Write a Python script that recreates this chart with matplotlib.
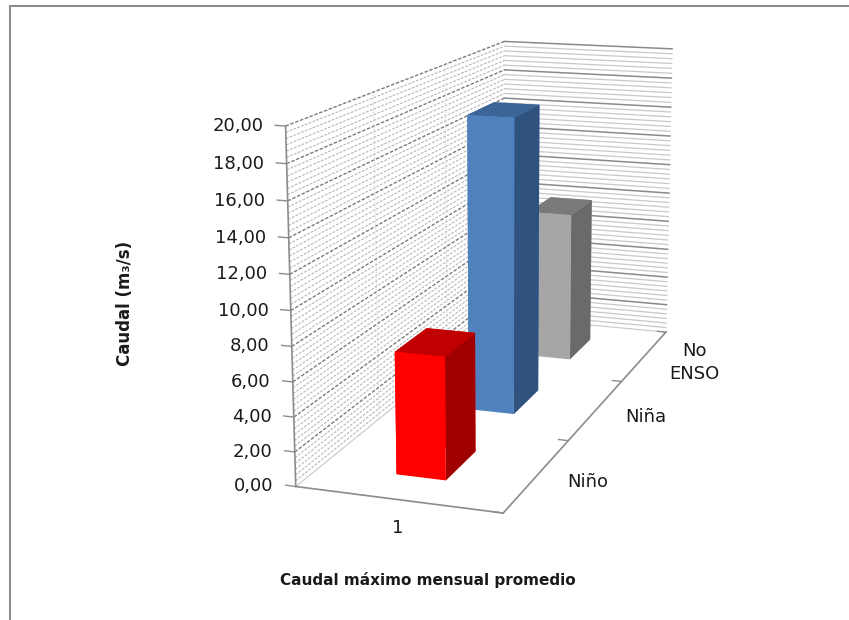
import matplotlib
matplotlib.use("Agg")
import matplotlib.pyplot as plt
import numpy as np
from mpl_toolkits.mplot3d.art3d import Poly3DCollection
from mpl_toolkits.mplot3d import proj3d

# Data
categories = ["1"]
series = ["Niño", "Niña", "No\nENSO"]
values = [7.13, 18.34, 9.91]
z_ticks = [0, 2, 4, 6, 8, 10, 12, 14, 16, 18, 20]
z_tick_labels = ["0,00", "2,00", "4,00", "6,00", "8,00", "10,00",
                 "12,00", "14,00", "16,00", "18,00", "20,00"]

face_colors = {
    # top, front, right side
    "Niño": ("#C00000", "#FF0000", "#A00000"),
    "Niña": ("#3B6596", "#4F81BD", "#30527E"),
    "No\nENSO": ("#7A7A7A", "#A6A6A6", "#6A6A6A"),
}

plt.rcParams["font.family"] = ["DejaVu Sans"]

fig = plt.figure(figsize=(8.49, 6.2), dpi=100)
ax = fig.add_axes([0.0837, 0.0924, 1.0, 1.0], projection="3d", computed_zorder=False)
ax.set_proj_type("persp", focal_length=0.5545)
ax.view_init(elev=13.71, azim=-71.27)

XMAX, YMAX, ZMAX = 1.0, 3.0, 20.0
ax.set_xlim(0, XMAX)
ax.set_ylim(0, YMAX)
ax.set_zlim(0, ZMAX)
ax.set_box_aspect((0.5996, 1.7807, 1.0), zoom=1.0878)
ax.set_axis_off()

# Walls and floor
left_wall = [[(0, 0, 0), (0, YMAX, 0), (0, YMAX, ZMAX), (0, 0, ZMAX)]]
back_wall = [[(0, YMAX, 0), (XMAX, YMAX, 0), (XMAX, YMAX, ZMAX), (0, YMAX, ZMAX)]]
floor = [[(0, 0, 0), (XMAX, 0, 0), (XMAX, YMAX, 0), (0, YMAX, 0)]]
for poly in (left_wall, back_wall, floor):
    ax.add_collection3d(Poly3DCollection(poly, facecolor="white",
                                         edgecolor="none", zorder=1))

# Wall texture: dense minor lines with darker major gridlines every 2 units
for k in range(1, 61):
    z = k * ZMAX / 60
    major = k % 6 == 0
    if major:
        ax.plot([0, 0], [0, YMAX], [z, z], color="#7A7A7A", lw=1.0,
                ls=(0, (2.5, 1.2)), zorder=1.6)
        ax.plot([0, XMAX], [YMAX, YMAX], [z, z], color="#8A8A8A", lw=1.1,
                zorder=1.6)
    else:
        ax.plot([0, 0], [0, YMAX], [z, z], color="#B8B8B8", lw=0.8,
                ls=(0, (2.5, 1.2)), zorder=1.5)
        ax.plot([0, XMAX], [YMAX, YMAX], [z, z], color="#C8C8C8", lw=0.9,
                zorder=1.5)
for yv in (1, 2):
    ax.plot([0, 0], [yv, yv], [0, ZMAX], color="#C8C8C8", lw=0.7,
            ls=(0, (1, 1.5)), zorder=1.7)

# Axis edges
edge = "#8C8C8C"
ax.plot([0, 0], [0, 0], [0, ZMAX], color=edge, lw=1.2, zorder=2)
ax.plot([0, XMAX], [0, 0], [0, 0], color=edge, lw=1.2, zorder=2)
ax.plot([XMAX, XMAX], [0, YMAX], [0, 0], color=edge, lw=1.2, zorder=2)
ax.plot([0, 0], [0, YMAX], [0, 0], color="#C8C8C8", lw=0.8, zorder=1.8)
ax.plot([0, XMAX], [YMAX, YMAX], [0, 0], color="#C8C8C8", lw=0.8, zorder=1.8)

for z in z_ticks:
    ax.plot([0, -0.05], [0, 0], [z, z], color=edge, lw=1.0, zorder=2)
for yv in range(0, 4):
    ax.plot([XMAX, XMAX - 0.05], [yv, yv], [0, 0], color=edge, lw=1.0, zorder=2)

# Bars, drawn back to front
bw, bd = 0.245, 0.41
for i in reversed(range(len(series))):
    top, front, side = face_colors[series[i]]
    cols = ["white", top, front, front, front, side]
    ax.bar3d(0.5 - bw / 2, i + 0.5 - bd / 2, 0, bw, bd, values[i],
             color=cols, shade=False, edgecolor="none", zorder=3 + (2 - i))

# Tick labels placed at the projected positions of their 3D anchors
fig.canvas.draw()
M = ax.get_proj()


def at(x, y, z):
    px, py, _ = proj3d.proj_transform(x, y, z, M)
    return px, py


for z, lab in zip(z_ticks, z_tick_labels):
    ax.annotate(lab, at(0, 0, z), xycoords="data", xytext=(-16, 0),
                textcoords="offset points", ha="right", va="center",
                fontsize=13, color="#1A1A1A", annotation_clip=False)
for i, name in enumerate(series):
    ax.annotate(name, at(XMAX, i + 0.5, 0), xycoords="data", xytext=(36, -5),
                textcoords="offset points", ha="center", va="center",
                fontsize=13, color="#1A1A1A", linespacing=1.35,
                annotation_clip=False)
ax.annotate(categories[0], at(0.5, 0, 0), xycoords="data", xytext=(0, -14),
            textcoords="offset points", ha="center", va="top", fontsize=13,
            color="#1A1A1A", annotation_clip=False)

# Axis titles
fig.text(0.147, 0.51, "Caudal (m\u2083/s)", rotation=90, ha="center", va="center",
         fontsize=12, fontweight="bold", color="#1A1A1A")
fig.text(0.504, 0.065, "Caudal máximo mensual promedio", ha="center", va="center",
         fontsize=11, fontweight="bold", color="#1A1A1A")

# Chart border
fig.add_artist(plt.Rectangle((10 / 849, -0.05), 1.2, 1 - 6 / 620 + 0.05,
                             transform=fig.transFigure, fill=False,
                             edgecolor="#8C8C8C", lw=1.5))

fig.savefig("out.png", dpi=100, facecolor="white")
